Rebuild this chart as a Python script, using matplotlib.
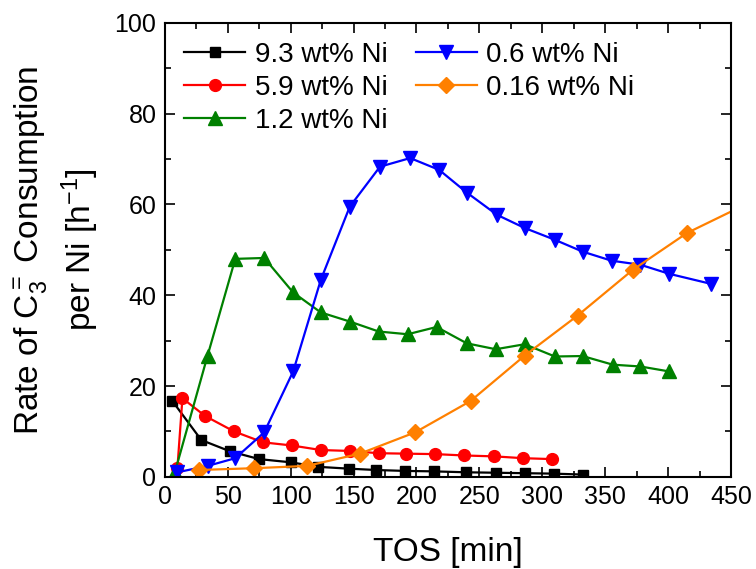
import matplotlib.pyplot as plt
from matplotlib.ticker import MultipleLocator

plt.rcParams['font.family'] = ['Liberation Sans', 'DejaVu Sans']
plt.rcParams['mathtext.fontset'] = 'custom'
plt.rcParams['mathtext.rm'] = 'Liberation Sans'
plt.rcParams['mathtext.it'] = 'Liberation Sans'

# 9.3 wt% Ni
tos_93 = [6, 29, 52, 75, 100, 122, 146, 168, 191, 214, 239, 263, 286, 309, 332]
rate_93 = [16.7, 8.1, 5.6, 3.9, 3.2, 2.2, 1.8, 1.5, 1.3, 1.2, 1.0, 0.9, 0.8, 0.7, 0.5]

# 5.9 wt% Ni
tos_59 = [10, 14, 32, 55, 78, 101, 124, 147, 170, 192, 215, 238, 262, 285, 308]
rate_59 = [1.9, 17.3, 13.4, 10.0, 7.6, 6.9, 5.9, 5.7, 5.2, 5.1, 5.0, 4.7, 4.5, 4.1, 3.9]

# 1.2 wt% Ni
tos_12 = [8, 34, 56, 79, 102, 124, 147, 170, 193, 216, 240, 263, 286, 310, 332, 356, 378, 401]
rate_12 = [1.0, 26.7, 48.0, 48.2, 40.6, 36.2, 34.2, 32.0, 31.4, 33.0, 29.4, 28.1, 29.2,
           26.5, 26.6, 24.7, 24.3, 23.2]

# 0.6 wt% Ni
tos_06 = [10, 34, 56, 79, 102, 124, 147, 171, 195, 218, 240, 264, 286, 310, 332, 355,
          378, 401, 434]
rate_06 = [1.0, 2.4, 4.1, 9.8, 23.2, 43.4, 59.5, 68.3, 70.2, 67.6, 62.6, 57.7, 54.8,
           52.2, 49.6, 47.6, 46.7, 44.7, 42.5]

# 0.16 wt% Ni
tos_016 = [27, 71, 113, 155, 199, 243, 286, 328, 372, 415, 458]
rate_016 = [1.5, 1.9, 2.4, 5.1, 9.8, 16.7, 26.7, 35.5, 45.6, 53.7, 59.5]

fig = plt.figure(figsize=(7.56, 5.69), dpi=100)
ax = fig.add_axes([0.218, 0.162, 0.749, 0.798])

lw = 1.6
ax.plot(tos_93, rate_93, '-s', color='black', lw=lw, ms=7.5, label='9.3 wt% Ni')
ax.plot(tos_59, rate_59, '-o', color='#ff0000', lw=lw, ms=8.5, label='5.9 wt% Ni')
ax.plot(tos_12, rate_12, '-^', color='#008000', lw=lw, ms=10, label='1.2 wt% Ni')
ax.plot(tos_06, rate_06, '-v', color='#0000ff', lw=lw, ms=10, label='0.6 wt% Ni')
ax.plot(tos_016, rate_016, '-D', color='#ff8000', lw=lw, ms=8.5, label='0.16 wt% Ni')

ax.set_xlim(0, 450)
ax.set_ylim(0, 100)
ax.xaxis.set_major_locator(MultipleLocator(50))
ax.xaxis.set_minor_locator(MultipleLocator(25))
ax.yaxis.set_major_locator(MultipleLocator(20))
ax.yaxis.set_minor_locator(MultipleLocator(10))
ax.tick_params(which='both', direction='in', top=True, right=True, width=1.2)
ax.tick_params(which='major', length=7, labelsize=18, pad=6)
ax.tick_params(which='minor', length=4)
for s in ax.spines.values():
    s.set_linewidth(1.5)

ax.set_xlabel('TOS [min]', fontsize=24, labelpad=20)
ax.set_ylabel('Rate of C$_3^=$ Consumption\nper Ni [h$^{-1}$]', fontsize=24, labelpad=10,
              linespacing=1.3)

ax.legend(ncol=2, loc='upper left', frameon=False, fontsize=20, handlelength=2.2,
          handletextpad=0.35, columnspacing=1.0, labelspacing=0.25,
          borderaxespad=0.3, bbox_to_anchor=(0.0, 1.0))

fig.savefig('out.png', dpi=100)
